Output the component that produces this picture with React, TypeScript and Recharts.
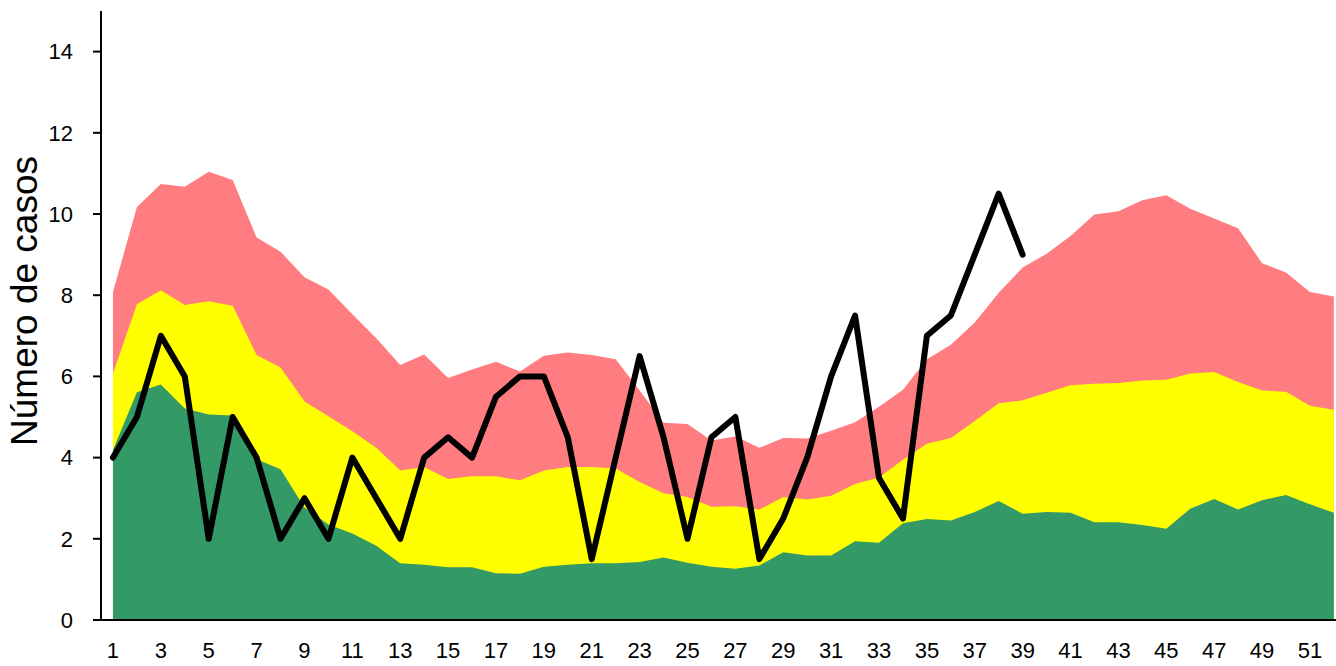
import { ComposedChart, Area, Line, XAxis, YAxis, Label } from 'recharts';

// semanas epidemiológicas 1..52
const semanas = Array.from({ length: 52 }, (_, i) => i + 1);

// límite superior de cada zona (canal endémico)
const zonaExito = [
    4.19, 5.61, 5.80, 5.21, 5.06, 5.04, 3.96, 3.71, 2.77, 2.35,
    2.13, 1.83, 1.40, 1.36, 1.30, 1.30, 1.15, 1.14, 1.31, 1.36,
    1.40, 1.40, 1.43, 1.54, 1.41, 1.31, 1.26, 1.34, 1.67, 1.59,
    1.59, 1.94, 1.90, 2.38, 2.49, 2.45, 2.66, 2.93, 2.62, 2.66,
    2.64, 2.41, 2.41, 2.34, 2.25, 2.74, 2.98, 2.72, 2.95, 3.08,
    2.85, 2.64,
];
const zonaSeguridad = [
    6.07, 7.78, 8.12, 7.76, 7.85, 7.74, 6.53, 6.22, 5.38, 5.02,
    4.65, 4.24, 3.68, 3.77, 3.47, 3.54, 3.54, 3.44, 3.68, 3.77,
    3.77, 3.73, 3.40, 3.12, 3.03, 2.79, 2.80, 2.72, 3.03, 2.97,
    3.06, 3.35, 3.51, 3.95, 4.34, 4.48, 4.90, 5.34, 5.41, 5.60,
    5.78, 5.82, 5.84, 5.90, 5.92, 6.07, 6.11, 5.86, 5.65, 5.62,
    5.28, 5.18,
];
const zonaAlarma = [
    8.08, 10.17, 10.74, 10.67, 11.04, 10.84, 9.42, 9.07, 8.44, 8.14,
    7.53, 6.94, 6.28, 6.54, 5.96, 6.17, 6.36, 6.12, 6.51, 6.59,
    6.53, 6.42, 5.65, 4.86, 4.83, 4.42, 4.52, 4.24, 4.48, 4.47,
    4.66, 4.87, 5.25, 5.67, 6.42, 6.78, 7.33, 8.06, 8.68, 9.02,
    9.46, 9.99, 10.07, 10.34, 10.46, 10.13, 9.89, 9.65, 8.79, 8.56,
    8.08, 7.97,
];
// casos observados (semanas 1..39)
const casos = [
    4, 5, 7, 6, 2, 5, 4, 2, 3, 2,
    4, 3, 2, 4, 4.5, 4, 5.5, 6, 6, 4.5,
    1.5, 4, 6.5, 4.5, 2, 4.5, 5, 1.5, 2.5, 4,
    6, 7.5, 3.5, 2.5, 7, 7.5, 9, 10.5, 9,
];

const xTicks = semanas.filter((s) => s % 2 === 1);
const yTicks = [0, 2, 4, 6, 8, 10, 12, 14];

const data = semanas.map((s, i) => ({
    semana: s,
    exito: zonaExito[i],
    seguridad: zonaSeguridad[i],
    alarma: zonaAlarma[i],
    casos: i < casos.length ? casos[i] : null,
}));

const font = "'Liberation Sans', Arial, sans-serif";

export default function App() {
    return (
        <div style={{ position: 'absolute', left: 0, top: 0, width: 1336, height: 666, background: '#fff' }}>
            <ComposedChart width={1336} height={666} data={data} margin={{ top: 11, right: 0, bottom: 0, left: 0 }}>
                <XAxis
                    dataKey="semana"
                    type="number"
                    domain={[0.5, 52.09]}
                    ticks={xTicks}
                    allowDataOverflow
                    height={46}
                    tickLine={false}
                    tickSize={0}
                    tickMargin={22}
                    axisLine={{ stroke: '#000', strokeWidth: 2 }}
                    tick={{ fontSize: 22, fill: '#000', fontFamily: font }}
                    interval={0}
                />
                <YAxis
                    type="number"
                    domain={[0, 15]}
                    ticks={yTicks}
                    allowDataOverflow
                    width={101}
                    tickSize={8}
                    tickMargin={20}
                    axisLine={{ stroke: '#000', strokeWidth: 2 }}
                    tickLine={{ stroke: '#000', strokeWidth: 2 }}
                    tick={{ fontSize: 22, fill: '#000', fontFamily: font }}
                    interval={0}
                >
                    <Label
                        content={() => (
                            <text
                                x={37}
                                y={301}
                                transform="rotate(-90 37 301)"
                                textAnchor="middle"
                                fontSize={37}
                                fontFamily={font}
                                fill="#000"
                            >
                                Número de casos
                            </text>
                        )}
                    />
                </YAxis>
                <Area type="linear" dataKey="alarma" fill="#FF7C80" fillOpacity={1} stroke="none" isAnimationActive={false} />
                <Area type="linear" dataKey="seguridad" fill="#FFFF00" fillOpacity={1} stroke="none" isAnimationActive={false} />
                <Area type="linear" dataKey="exito" fill="#339966" fillOpacity={1} stroke="none" isAnimationActive={false} />
                <Line
                    type="linear"
                    dataKey="casos"
                    stroke="#000"
                    strokeWidth={6}
                    strokeLinejoin="round"
                    strokeLinecap="round"
                    dot={false}
                    activeDot={false}
                    isAnimationActive={false}
                />
            </ComposedChart>
        </div>
    );
}
